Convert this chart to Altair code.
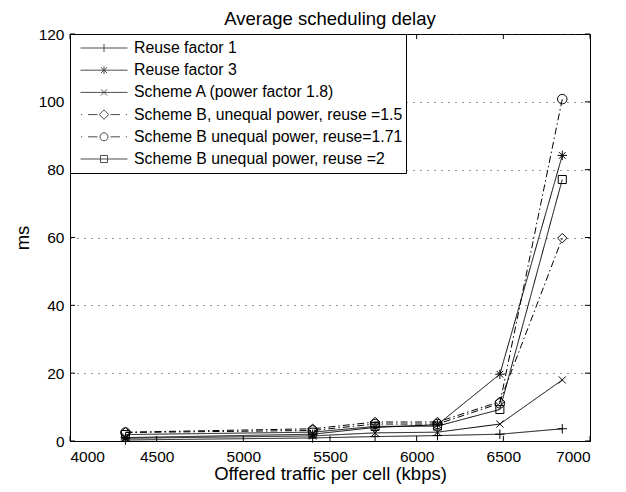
import altair as alt
import pandas as pd

# ---------------- data ----------------
x_kbps = [4320, 5400, 5760, 6120, 6480, 6840]
reuse1 = [0.3, 0.9, 1.3, 1.6, 2.0, 3.6]
reuse3 = [1.0, 2.0, 4.0, 4.8, 19.7, 84.2]
schemeA = [0.8, 1.5, 2.4, 2.6, 5.0, 18.0]
schemeB15 = [2.6, 3.6, 5.6, 5.6, 11.6, 59.8]
schemeB171 = [2.5, 3.1, 5.0, 5.0, 11.1, 100.8]
schemeB2 = [1.9, 2.6, 4.3, 4.4, 9.3, 77.1]

series_names = [
    "Reuse factor 1",
    "Reuse factor 3",
    "Scheme A (power factor 1.8)",
    "Scheme B, unequal power, reuse =1.5",
    "Scheme B unequal power, reuse=1.71",
    "Scheme B unequal power, reuse =2",
]
series_values = [reuse1, reuse3, schemeA, schemeB15, schemeB171, schemeB2]

x_ticks = [4000, 4500, 5000, 5500, 6000, 6500, 7000]
y_ticks = [0, 20, 40, 60, 80, 100, 120]

rows = []
for name, vals in zip(series_names, series_values):
    for xv, yv in zip(x_kbps, vals):
        rows.append({"series": name, "x": xv, "y": yv})
df = pd.DataFrame(rows)

# ---------------- styles ----------------
FONT = "Liberation Sans"
DASHDOT = [7, 3, 1.5, 3]
SOLID = [1, 0]
dash_range = [SOLID, SOLID, SOLID, DASHDOT, DASHDOT, SOLID]

marker_range = [
    "M-1,0L1,0M0,-1L0,1",
    "M-1,0L1,0M0,-1L0,1M-0.7,-0.7L0.7,0.7M-0.7,0.7L0.7,-0.7",
    "M-0.75,-0.75L0.75,0.75M-0.75,0.75L0.75,-0.75",
    "diamond",
    "circle",
    "M-0.85,-0.85L0.85,-0.85L0.85,0.85L-0.85,0.85Z",
]

SOLID_LINE = "M-1,0L1,0"
DD_LINE = "M-0.98,0L-0.93,0M-0.68,0L-0.28,0M0.28,0L0.68,0M0.93,0L0.98,0"
legend_range = [
    SOLID_LINE + "M0,-0.17L0,0.17",
    SOLID_LINE + "M0,-0.17L0,0.17M-0.13,-0.12L0.13,0.12M-0.13,0.12L0.13,-0.12",
    SOLID_LINE + "M-0.13,-0.13L0.13,0.13M-0.13,0.13L0.13,-0.13",
    DD_LINE + "M-0.2,0L0,-0.2L0.2,0L0,0.2Z",
    DD_LINE + "M0.17,0A0.17,0.17,0,1,1,-0.17,0A0.17,0.17,0,1,1,0.17,0Z",
    SOLID_LINE + "M-0.15,-0.15L0.15,-0.15L0.15,0.15L-0.15,0.15Z",
]

xs = alt.Scale(domain=[4000, 7000], nice=False, zero=False)
ys = alt.Scale(domain=[0, 120], nice=False, zero=False)

axis_common = dict(
    ticks=False,
    tickSize=0,
    domainColor="black",
    domainWidth=1,
    labelFont=FONT,
    labelFontSize=15.5,
    labelColor="black",
    titleFont=FONT,
    titleFontSize=18.5,
    titleFontWeight="normal",
    titleColor="black",
    format="d",
)

x_axis = alt.Axis(
    title="Offered traffic per cell (kbps)",
    values=x_ticks,
    grid=False,
    labelPadding=8,
    titlePadding=0,
    **axis_common,
)
y_axis = alt.Axis(
    title="ms",
    values=y_ticks,
    grid=True,
    labelPadding=6,
    titlePadding=6,
    gridColor="#333333",
    gridDash=[1, 6],
    gridWidth=1,
    **axis_common,
)

X = alt.X("x:Q", scale=xs, axis=x_axis)
Y = alt.Y("y:Q", scale=ys, axis=y_axis)

base = alt.Chart(df)

lines = base.mark_line(color="black", strokeWidth=1).encode(
    x=X,
    y=Y,
    strokeDash=alt.StrokeDash(
        "series:N",
        scale=alt.Scale(domain=series_names, range=dash_range),
        legend=None,
    ),
)

points = base.mark_point(
    color="black", filled=False, size=90, strokeWidth=1, opacity=1
).encode(
    x=X,
    y=Y,
    shape=alt.Shape(
        "series:N",
        scale=alt.Scale(domain=series_names, range=marker_range),
        legend=None,
    ),
)

legend_layer = (
    base.transform_filter("false")
    .mark_point(color="black", filled=False, strokeWidth=1)
    .encode(
        x=X,
        y=Y,
        shape=alt.Shape(
            "series:N",
            scale=alt.Scale(domain=series_names, range=legend_range),
            legend=alt.Legend(
                title=None,
                orient="top-left",
                offset=0,
                padding=3,
                clipHeight=22,
                rowPadding=0.2,
                symbolSize=2209,
                symbolOffset=7,
                symbolStrokeColor="black",
                symbolStrokeWidth=1,
                symbolFillColor="transparent",
                labelOffset=6,
                labelFont=FONT,
                labelFontSize=15.8,
                labelColor="black",
                labelLimit=400,
                strokeColor="black",
                fillColor="white",
            ),
        ),
    )
)

# inward tick marks (bottom/top and left/right)
tick_len_y = 1.5
tick_len_x = 29
xt = pd.DataFrame(
    {
        "x": x_ticks + x_ticks,
        "y": [0] * len(x_ticks) + [120] * len(x_ticks),
        "y2": [tick_len_y] * len(x_ticks) + [120 - tick_len_y] * len(x_ticks),
    }
)
yt = pd.DataFrame(
    {
        "y": y_ticks + y_ticks,
        "x": [4000] * len(y_ticks) + [7000] * len(y_ticks),
        "x2": [4000 + tick_len_x] * len(y_ticks) + [7000 - tick_len_x] * len(y_ticks),
    }
)
xticks_layer = alt.Chart(xt).mark_rule(color="black", strokeWidth=1).encode(
    x=X, y=Y, y2="y2:Q"
)
yticks_layer = alt.Chart(yt).mark_rule(color="black", strokeWidth=1).encode(
    x=X, x2="x2:Q", y=Y
)

chart = (
    alt.layer(xticks_layer, yticks_layer, lines, points, legend_layer)
    .resolve_scale(shape="independent")
    .properties(
        width=520,
        height=407,
        background="white",
        padding={"left": 62, "top": 26, "right": 28, "bottom": 43},
        autosize=alt.AutoSizeParams(type="none"),
        title=alt.Title(
            "Average scheduling delay",
            font=FONT,
            fontSize=18.5,
            fontWeight="normal",
            color="black",
            anchor="middle",
            baseline="alphabetic",
            offset=3,
            dy=19.5,
        ),
    )
    .configure_view(stroke="black", strokeWidth=1)
)

chart.save("out.html", embed_options={"renderer": "svg", "actions": False})
